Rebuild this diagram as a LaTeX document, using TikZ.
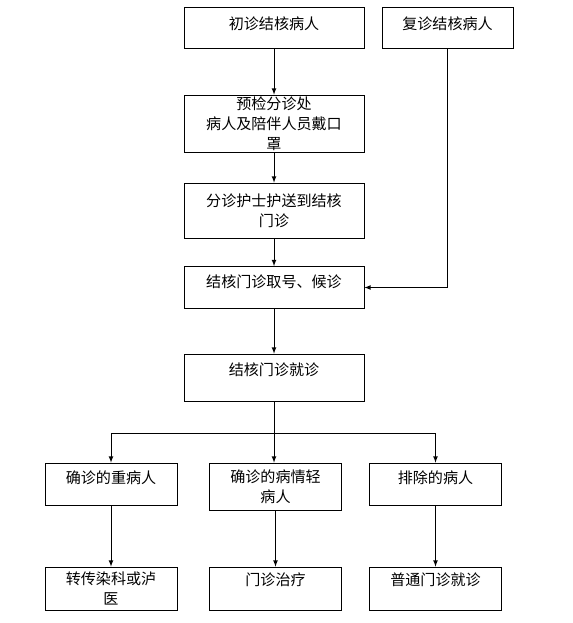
\documentclass[tikz,border=0pt]{standalone}
\usepackage{fontspec}
\newfontfamily\cjk{Noto Sans CJK SC}
\usetikzlibrary{arrows}

\tikzset{
  box/.style={draw,line width=0.6pt,align=center,inner sep=0pt,
    font=\cjk\fontsize{11.3}{15}\selectfont},
  wide/.style={box,minimum width=135pt},
  narrow/.style={box,minimum width=99pt},
  lift/.style={text depth=#1},
  arr/.style={-latex,line width=0.6pt}
}

\begin{document}
\begin{tikzpicture}[x=0.75pt,y=-0.75pt]
      \useasboundingbox (0,0) rectangle (572,623);
      % upper column
      \node[wide,lift=5.8pt,minimum height=30.75pt] (first) at (274,27.5) {初诊结核病人};
      \node[box,lift=5.8pt,minimum width=98.25pt,minimum height=30.75pt] (revisit) at (447.5,27.5) {复诊结核病人};
      \node[wide,minimum height=42.75pt] (triage) at (274,123.5) {预检分诊处\\病人及陪伴人员戴口\\罩};
      \node[wide,minimum height=41.25pt] (escort) at (274,210.5) {分诊护士护送到结核\\门诊};
      \node[wide,lift=10.2pt,minimum height=31.5pt] (queue) at (274,287.5) {结核门诊取号、候诊};
      \node[wide,lift=12pt,minimum height=35.25pt] (visit) at (274,377.5) {结核门诊就诊};
      % three outcomes
      \node[narrow,lift=11pt,minimum height=31.5pt] (severe) at (111,484) {确诊的重病人};
      \node[narrow,minimum height=35.25pt] (mild) at (275.5,486.5) {确诊的病情轻\\病人};
      \node[narrow,lift=11pt,minimum height=31.5pt] (excluded) at (435.5,484) {排除的病人};
      \node[narrow,minimum height=32.25pt] (transfer) at (111,588.5) {转传染科或泸\\医};
      \node[narrow,lift=14.5pt,minimum height=32.25pt] (clinic) at (275.5,588.5) {门诊治疗};
      \node[narrow,lift=14.5pt,minimum height=32.25pt] (general) at (435.5,588.5) {普通门诊就诊};
      \coordinate (split) at (274,433);
      \draw[arr] (first) -- (triage);
      \draw[arr] (triage) -- (escort);
      \draw[arr] (escort) -- (queue);
      \draw[arr] (queue) -- (visit);
      \draw[arr] (revisit.south) |- (queue.east);
      \draw[line width=0.6pt] (visit) -- (split);
      \draw[arr] (split) -| (severe.north);
      \draw[arr] (split) -| (excluded.north);
      \draw[arr] (split) -- (split |- mild.north);
      \foreach \a/\b in {severe/transfer,mild/clinic,excluded/general}
      \draw[arr] (\a) -- (\b);
    \end{tikzpicture}
\end{document}
